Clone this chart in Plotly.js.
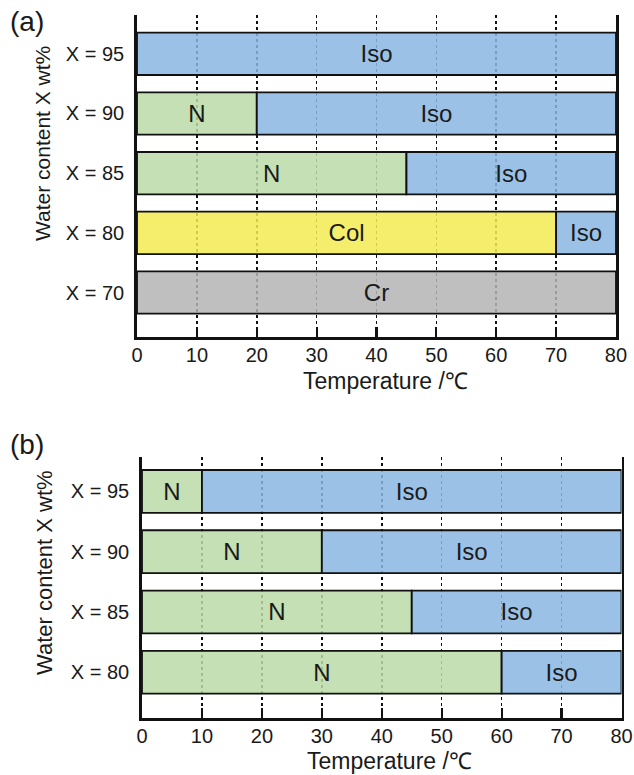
<!DOCTYPE html>
<html>
<head>
<meta charset="utf-8">
<script src="https://cdn.plot.ly/plotly-3.0.1.min.js"></script>
<style>html,body{margin:0;padding:0;background:#fff;}#chart{width:634px;height:775px;}</style>
</head>
<body>
<div id="chart"></div>
<script>
// ---------- data ----------
const rowsA = ['X = 70', 'X = 80', 'X = 85', 'X = 90', 'X = 95'];
const segA_row   = ['X = 70', 'X = 80', 'X = 80', 'X = 85', 'X = 85', 'X = 90', 'X = 90', 'X = 95'];
const segA_phase = ['Cr', 'Col', 'Iso', 'N', 'Iso', 'N', 'Iso', 'Iso'];
const segA_start = [0, 0, 70, 0, 45, 0, 20, 0];
const segA_end   = [80, 70, 80, 45, 80, 20, 80, 80];

const rowsB = ['X = 80', 'X = 85', 'X = 90', 'X = 95'];
const segB_row   = ['X = 80', 'X = 80', 'X = 85', 'X = 85', 'X = 90', 'X = 90', 'X = 95', 'X = 95'];
const segB_phase = ['N', 'Iso', 'N', 'Iso', 'N', 'Iso', 'N', 'Iso'];
const segB_start = [0, 60, 0, 45, 0, 30, 0, 10];
const segB_end   = [60, 80, 45, 80, 30, 80, 10, 80];

const tempTicks = [0, 10, 20, 30, 40, 50, 60, 70, 80];
const xTitle = 'Temperature /\u2103';
const yTitle = 'Water content X wt%';
const panelLabels = ['(a)', '(b)'];
const phaseColor = {
  'Iso': 'rgba(137,183,226,0.85)',
  'N':   'rgba(187,219,167,0.85)',
  'Col': 'rgba(243,235,82,0.85)',
  'Cr':  'rgba(180,180,180,0.85)'
};

// ---------- build ----------
const FONT = 'Arial, "Liberation Sans", Helvetica, sans-serif';
const TXT = '#1a1a1a';

function makeTrace(rows, phase, start, end, xa, ya) {
  return {
    type: 'bar',
    orientation: 'h',
    y: rows,
    base: start,
    x: end.map((e, i) => e - start[i]),
    text: phase,
    textposition: 'inside',
    insidetextanchor: 'middle',
    textangle: 0,
    constraintext: 'none',
    textfont: {family: FONT, size: 24, color: TXT},
    marker: {color: phase.map(p => phaseColor[p]), line: {color: '#111', width: 1.8}},
    width: 0.71,
    xaxis: xa, yaxis: ya,
    hoverinfo: 'skip',
    showlegend: false
  };
}

const xCommon = {
  range: [0, 80],
  tickmode: 'array',
  tickvals: tempTicks,
  ticks: 'inside', ticklen: 10, tickwidth: 2.2, tickcolor: '#111',
  showgrid: true, gridcolor: '#111', gridwidth: 1.6, griddash: 'dot',
  showline: true, linecolor: '#111', linewidth: 2.8, mirror: false,
  zeroline: false,
  tickfont: {family: FONT, size: 20, color: TXT},
  ticklabelstandoff: -2,
  fixedrange: true
};
const yCommon = {
  type: 'category',
  categoryorder: 'array',
  ticks: '',
  showgrid: false,
  showline: true, linecolor: '#111', linewidth: 2.8, mirror: true,
  zeroline: false,
  tickfont: {family: FONT, size: 20, color: TXT},
  ticklabelstandoff: 6,
  fixedrange: true
};

const data = [
  makeTrace(segA_row, segA_phase, segA_start, segA_end, 'x', 'y'),
  makeTrace(segB_row, segB_phase, segB_start, segB_end, 'x2', 'y2')
];

function ann(text, x, y, size, angle) {
  return {text: text, xref: 'paper', yref: 'paper', x: x / 634, y: 1 - y / 775,
    xanchor: 'center', yanchor: 'middle', showarrow: false, textangle: angle || 0,
    font: {family: FONT, size: size, color: TXT}};
}

const layout = {
  width: 634, height: 775,
  margin: {l: 0, r: 0, t: 0, b: 0},
  paper_bgcolor: '#fff', plot_bgcolor: '#fff',
  barmode: 'overlay',
  font: {family: FONT, color: TXT},
  xaxis: Object.assign({}, xCommon, {domain: [0.2161, 0.9716], anchor: 'y'}),
  yaxis: Object.assign({}, yCommon, {domain: [0.5652, 0.9806], anchor: 'x',
    categoryarray: rowsA, range: [-0.745, 4.65]}),
  xaxis2: Object.assign({}, xCommon, {domain: [0.224, 0.9803], anchor: 'y2'}),
  yaxis2: Object.assign({}, yCommon, {domain: [0.0735, 0.4103], anchor: 'x2',
    categoryarray: rowsB, range: [-0.76, 3.57]}),
  annotations: [
    ann(panelLabels[0], 27, 21, 28),
    ann(panelLabels[1], 27, 444, 28),
    ann(xTitle, 385, 381, 23),
    ann(xTitle, 390, 761, 23),
    ann(yTitle, 42, 144, 21, -90),
    ann(yTitle, 44, 573, 22, -90)
  ]
};

Plotly.newPlot('chart', data, layout, {staticPlot: true, displayModeBar: false});
</script>
</body>
</html>
